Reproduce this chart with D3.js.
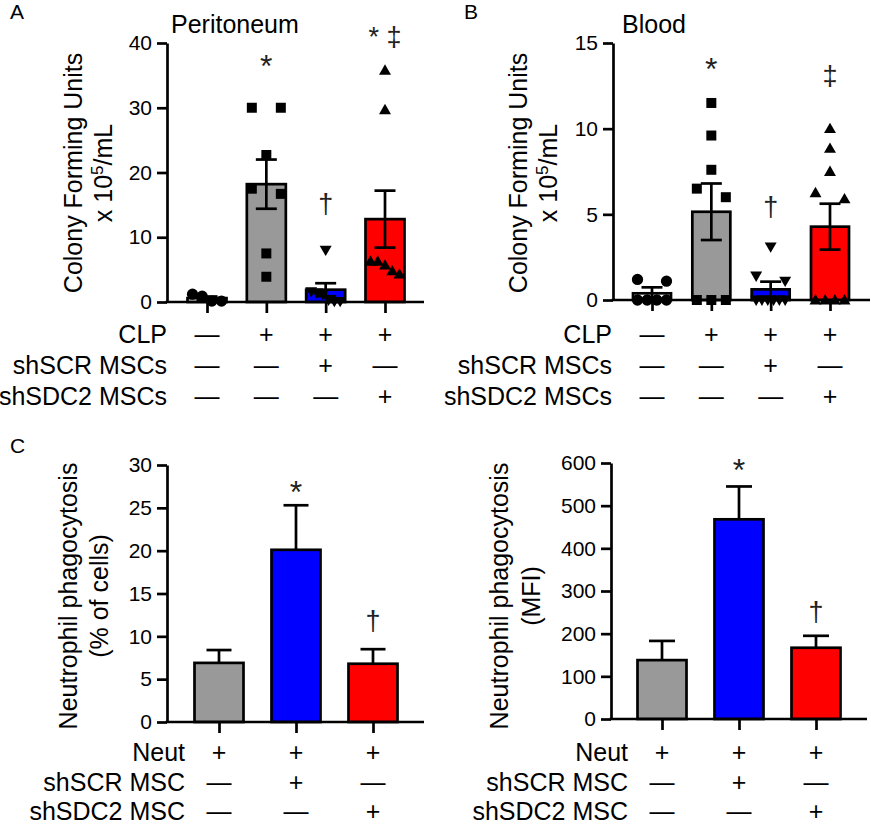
<!DOCTYPE html>
<html><head><meta charset="utf-8">
<script src="https://cdn.jsdelivr.net/npm/d3@7"></script>
<style>
body{margin:0;background:#fff;}
svg{display:block;font-family:"Liberation Sans",Arial,sans-serif;}
</style></head>
<body><svg id="c" width="871" height="826"></svg>
<script>
// ---------- DATA ----------
const groupsAB = ["g1","g2","g3","g4"];
const groupsCD = ["g1","g2","g3"];
const fillsAB = ["#ffffff","#999999","#0000ff","#ff0000"];
const fillsCD = ["#999999","#0000ff","#ff0000"];
const markersAB = ["circle","square","down","up"];

const periTicks = [0,10,20,30,40];
const periMean = [0.6, 18.2, 1.9, 12.8];
const periSem  = [0.25, 3.8, 1.0, 4.4];
const periPts = [
  [0.15, 1.2, 0.15, 0.9],
  [30, 30, 22.7, 17.5, 16.7, 7.5, 3.9],
  [8.0, 1.6, 1.4, 1.2, 0.3, 0.1, 0.1],
  [35.8, 29.7, 6.3, 6.3, 5.7, 4.8, 4.3]
];
const periAnn = [{g:"g2",t:"*",v:37.5},{g:"g3",t:"†",v:15},{g:"g4",t:"* ‡",v:40.8}];

const bloodTicks = [0,5,10,15];
const bloodMean = [0.39, 5.15, 0.62, 4.28];
const bloodSem  = [0.35, 1.65, 0.45, 1.34];
const bloodPts = [
  [1.2, 1.1, 0, 0, 0, 0],
  [11.5, 9.6, 7.6, 6.5, 6.0, 0, 0, 0],
  [3.1, 1.4, 1.1, 0, 0, 0, 0, 0, 0],
  [10.0, 8.85, 7.5, 6.26, 5.9, 0, 0, 0, 0]
];
const bloodAnn = [{g:"g2",t:"*",v:13.9},{g:"g3",t:"†",v:5.4},{g:"g4",t:"‡",v:13.0}];

const pctTicks = [0,5,10,15,20,25,30];
const pctMean = [6.9, 20.1, 6.8];
const pctSem  = [1.5, 5.2, 1.7];
const pctAnn = [{g:"g2",t:"*",v:27.7},{g:"g3",t:"†",v:11.7}];

const mfiTicks = [0,100,200,300,400,500,600];
const mfiMean = [138, 468, 167];
const mfiSem  = [45, 77, 28];
const mfiAnn = [{g:"g2",t:"*",v:600},{g:"g3",t:"†",v:248}];

const rowLabelsAB = ["CLP","shSCR MSCs","shSDC2 MSCs"];
const rowSignsAB = [["—","+","+","+"],["—","—","+","—"],["—","—","—","+"]];
const rowLabelsCD = ["Neut","shSCR MSC","shSDC2 MSC"];
const rowSignsCD = [["+","+","+"],["—","+","—"],["—","—","+"]];

// ---------- DRAW ----------
const svg = d3.select("#c");
const LW = 2.7;
const FS = 25;

function panel(o){
  const g = svg.append("g");
  const y = d3.scaleLinear().domain(o.domain).range([o.y0, o.yTop]);
  const x = d3.scalePoint().domain(o.groups).range([o.ax + o.padL, o.xEnd - o.padR]);

  // y axis
  const ya = g.append("g").attr("transform",`translate(${o.ax},0)`)
    .call(d3.axisLeft(y).tickValues(o.ticks).tickSize(10).tickSizeOuter(0).tickPadding(5));
  ya.select(".domain").attr("stroke","#000").attr("stroke-width",LW);
  ya.selectAll(".tick line").attr("stroke","#000").attr("stroke-width",LW);
  ya.selectAll(".tick text").attr("font-size",21).attr("fill","#000")
    .attr("font-family","'Liberation Sans',Arial,sans-serif");

  // bars
  g.selectAll("rect.bar").data(o.groups).enter().append("rect")
    .attr("x", d => x(d) - o.bw/2).attr("width", o.bw)
    .attr("y", (d,i) => y(o.mean[i])).attr("height", (d,i) => y(0) - y(o.mean[i]))
    .attr("fill", (d,i) => o.fills[i]).attr("stroke","#000").attr("stroke-width",LW);

  // points
  if (o.pts){
    const ms = 10;
    o.groups.forEach((gr,i) => {
      const vals = o.pts[i].slice().sort((a,b)=>b-a);
      const clusters = [];
      vals.forEach(v => {
        const last = clusters[clusters.length-1];
        if (last && Math.abs(y(v) - y(last[last.length-1])) < ms) last.push(v);
        else clusters.push([v]);
      });
      const placed = [];
      clusters.forEach(c => {
        const n = c.length, sp = n>1 ? 29/(n-1) : 0;
        c.forEach((v,k) => placed.push({v, dx:(k-(n-1)/2)*sp}));
      });
      const m = o.markers[i];
      const sym = m==="circle" ? d3.symbolCircle : m==="square" ? d3.symbolSquare : d3.symbolTriangle;
      const size = m==="circle" ? 100 : m==="square" ? 100 : 62;
      g.selectAll(null).data(placed).enter().append("path")
        .attr("d", d3.symbol().type(sym).size(size))
        .attr("transform", d => `translate(${x(gr)+d.dx},${y(d.v) + (m==="down"?-1:m==="up"?1:0)})` + (m==="down" ? " rotate(180)" : ""))
        .attr("fill","#000");
    });
  }

  // error bars
  o.groups.forEach((gr,i) => {
    const cx = x(gr), top = y(o.mean[i] + o.sem[i]);
    const bot = o.twoSided ? y(Math.max(0,o.mean[i] - o.sem[i])) : y(o.mean[i]);
    g.append("line").attr("x1",cx).attr("x2",cx).attr("y1",top).attr("y2",bot)
      .attr("stroke","#000").attr("stroke-width",LW);
    g.append("line").attr("x1",cx-o.cap).attr("x2",cx+o.cap).attr("y1",top).attr("y2",top)
      .attr("stroke","#000").attr("stroke-width",LW);
    if (o.twoSided)
      g.append("line").attr("x1",cx-o.cap).attr("x2",cx+o.cap).attr("y1",bot).attr("y2",bot)
        .attr("stroke","#000").attr("stroke-width",LW);
  });

  // x axis baseline + ticks
  g.append("line").attr("x1",o.ax - LW/2).attr("x2",o.xEnd).attr("y1",y(0)).attr("y2",y(0))
    .attr("stroke","#000").attr("stroke-width",LW);
  const xa = g.append("g").attr("transform",`translate(0,${y(0)})`)
    .call(d3.axisBottom(x).tickSize(11).tickFormat(""));
  xa.select(".domain").remove();
  xa.selectAll(".tick line").attr("stroke","#000").attr("stroke-width",LW);

  // annotations (value = visual centre of the mark)
  o.ann.forEach(a => {
    const star = a.t === "*";
    const fs = star ? 32 : 27;
    g.append("text").attr("x", x(a.g)).attr("y", y(a.v) + (star ? 0.57*fs : 0.3*fs))
      .attr("text-anchor","middle").attr("font-size", fs)
      .attr("fill","#222").text(a.t);
  });

  // y label
  const yl = g.append("text").attr("transform",`translate(${o.ylx},${o.ylc}) rotate(-90)`)
    .attr("text-anchor","middle").attr("font-size",FS).attr("fill","#000");
  yl.append("tspan").attr("x",0).attr("y",0).text(o.yl1);
  const t2 = yl.append("tspan").attr("x",0).attr("y",o.ylgap);
  o.yl2.forEach(p => {
    const s = t2.append("tspan").text(p.t);
    if (p.sup) s.attr("font-size",17).attr("baseline-shift","super");
  });

  // rows
  o.rowLabels.forEach((lab,r) => {
    g.append("text").attr("x",o.rowX).attr("y",o.rowY[r]).attr("text-anchor","end")
      .attr("font-size",FS).attr("fill","#000").text(lab);
    o.groups.forEach((gr,i) => {
      g.append("text").attr("x",x(gr)).attr("y",o.rowY[r]).attr("text-anchor","middle")
        .attr("font-size",FS).attr("fill","#000").text(o.rowSigns[r][i]);
    });
  });

  if (o.title) g.append("text").attr("x",o.titleX).attr("y",33).attr("font-size",FS).attr("fill","#000").text(o.title);
  if (o.letter) g.append("text").attr("x",o.letter[1]).attr("y",o.letter[2]).attr("font-size",21).attr("fill","#000").text(o.letter[0]);
}

const yl2AB = [{t:"x 10"},{t:"5",sup:true},{t:"/mL"}];

panel({groups:groupsAB, domain:[0,40], ticks:periTicks, y0:302, yTop:43, ax:167, xEnd:424, padL:40, padR:39,
  bw:39, mean:periMean, sem:periSem, pts:periPts, markers:markersAB, fills:fillsAB, twoSided:true, cap:10.5,
  ann:periAnn, yl1:"Colony Forming Units", yl2:yl2AB, ylx:82, ylc:173, ylgap:30,
  rowLabels:rowLabelsAB, rowSigns:rowSignsAB, rowX:167, rowY:[343,374,405],
  title:"Peritoneum", titleX:171, letter:["A",10,19]});

panel({groups:groupsAB, domain:[0,15], ticks:bloodTicks, y0:300, yTop:43, ax:613, xEnd:870, padL:39, padR:40,
  bw:38, mean:bloodMean, sem:bloodSem, pts:bloodPts, markers:markersAB, fills:fillsAB, twoSided:true, cap:10.5,
  ann:bloodAnn, yl1:"Colony Forming Units", yl2:yl2AB, ylx:527, ylc:173, ylgap:30,
  rowLabels:rowLabelsAB, rowSigns:rowSignsAB, rowX:612, rowY:[343,374,405],
  title:"Blood", titleX:622, letter:["B",464,19]});

panel({groups:groupsCD, domain:[0,30], ticks:pctTicks, y0:722, yTop:465, ax:167, xEnd:424, padL:52, padR:51,
  bw:49, mean:pctMean, sem:pctSem, fills:fillsCD, twoSided:false, cap:12.5,
  ann:pctAnn, yl1:"Neutrophil phagocytosis", yl2:[{t:"(% of cells)"}], ylx:77, ylc:596, ylgap:31,
  rowLabels:rowLabelsCD, rowSigns:rowSignsCD, rowX:185, rowY:[761,791,820],
  letter:["C",10,453]});

panel({groups:groupsCD, domain:[0,600], ticks:mfiTicks, y0:719, yTop:463, ax:611, xEnd:867, padL:51, padR:51,
  bw:49, mean:mfiMean, sem:mfiSem, fills:fillsCD, twoSided:false, cap:13,
  ann:mfiAnn, yl1:"Neutrophil phagocytosis", yl2:[{t:"(MFI)"}], ylx:508, ylc:596, ylgap:32,
  rowLabels:rowLabelsCD, rowSigns:rowSignsCD, rowX:628, rowY:[761,791,820]});
</script></body></html>
